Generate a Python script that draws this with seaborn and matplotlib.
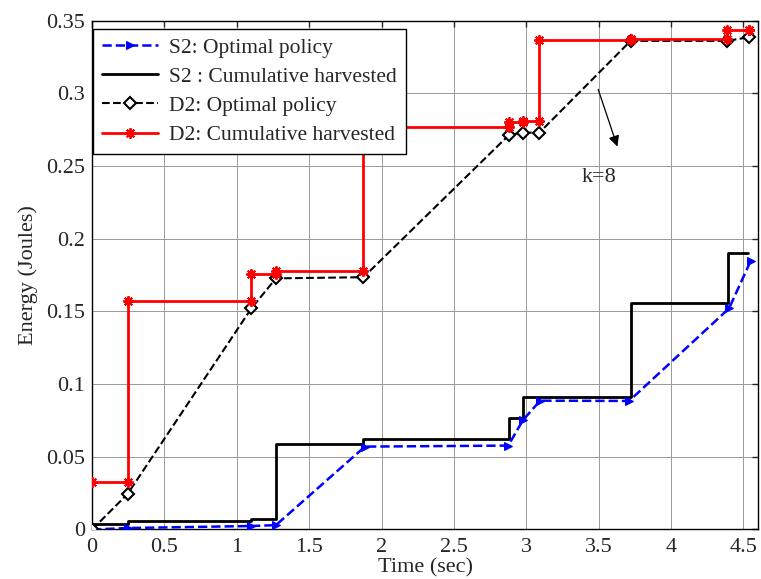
import matplotlib
matplotlib.use("Agg")
import matplotlib.pyplot as plt
import seaborn as sns
import pandas as pd
import numpy as np

# S2: optimal policy (blue dashed, triangles)
s2_opt_t = [0, 0.245, 1.10, 1.27, 1.885, 2.875, 2.975, 3.095, 3.71, 4.40, 4.55]
s2_opt_e = [0.0, 0.001, 0.0024, 0.003, 0.057, 0.0577, 0.075, 0.0886, 0.0884, 0.152, 0.1847]

# S2: cumulative harvested (black step)
s2_cum_t = [0, 0.245, 1.10, 1.27, 1.875, 2.88, 2.98, 3.72, 4.39, 4.53]
s2_cum_e = [0.004, 0.006, 0.007, 0.059, 0.0622, 0.077, 0.0913, 0.156, 0.1904, 0.1904]

# D2: optimal policy (black dashed, diamonds)
d2_opt_t = [0, 0.245, 1.10, 1.27, 1.875, 2.88, 2.975, 3.09, 3.72, 4.385, 4.535]
d2_opt_e = [0.0, 0.0244, 0.152, 0.1727, 0.1735, 0.2713, 0.2729, 0.2729, 0.336, 0.336, 0.3385]

# D2: cumulative harvested (red step with asterisks)
d2_cum_t = [0, 0.245, 1.10, 1.27, 1.875, 2.88, 2.975, 3.09, 3.72, 4.385, 4.535]
d2_cum_e = [0.0327, 0.157, 0.176, 0.178, 0.2766, 0.2805, 0.281, 0.3366, 0.337, 0.3435, 0.3435]


def stairs(t, e):
    # corner points of a post-step curve: (t_i, e_{i-1}) then (t_i, e_i)
    xs = [t[0]]
    ys = [e[0]]
    for i in range(1, len(t)):
        xs += [t[i], t[i]]
        ys += [e[i - 1], e[i]]
    return pd.DataFrame({"t": xs, "e": ys})


sns.set_style("white")
plt.rcParams["font.family"] = ["Liberation Serif", "DejaVu Serif"]

fig = plt.figure(figsize=(7.61, 5.79), dpi=100)
ax = fig.add_axes([0.121, 0.0855, 0.875, 0.879])

s2_opt = pd.DataFrame({"t": s2_opt_t, "e": s2_opt_e})
d2_opt = pd.DataFrame({"t": d2_opt_t, "e": d2_opt_e})
s2_cum = stairs(s2_cum_t, s2_cum_e)
d2_cum = stairs(d2_cum_t, d2_cum_e)

sns.lineplot(data=s2_opt, x="t", y="e", ax=ax, sort=False, estimator=None,
             color="#0000ff", linestyle="--", linewidth=1.8, marker=">",
             markersize=6, markeredgecolor="#0000ff", dashes=False,
             label="S2: Optimal policy", zorder=3)
sns.lineplot(data=s2_cum, x="t", y="e", ax=ax, sort=False, estimator=None,
             color="black", linewidth=2, label="S2 : Cumulative harvested", zorder=2)
sns.lineplot(data=d2_opt, x="t", y="e", ax=ax, sort=False, estimator=None,
             color="black", linestyle="--", linewidth=1.5, marker="D",
             markersize=6.5, markerfacecolor="white", markeredgecolor="black",
             markeredgewidth=1.5, dashes=False,
             label="D2: Optimal policy", zorder=3)
sns.lineplot(data=d2_cum, x="t", y="e", ax=ax, sort=False, estimator=None,
             color="red", linewidth=2, marker=(8, 2, 0), markersize=7.5,
             markeredgecolor="red", markeredgewidth=1.4,
             label="D2: Cumulative harvested", zorder=4)

ax.set_xlim(0, 4.6)
ax.set_ylim(0, 0.35)
ax.set_xticks(np.arange(0, 4.51, 0.5))
ax.set_xticklabels(["0", "0.5", "1", "1.5", "2", "2.5", "3", "3.5", "4", "4.5"])
ax.set_yticks(np.arange(0, 0.351, 0.05))
ax.set_yticklabels(["0", "0.05", "0.1", "0.15", "0.2", "0.25", "0.3", "0.35"])
ax.tick_params(direction="in", length=4, width=1, labelsize=16,
               top=True, right=True)
ax.tick_params(axis="x", pad=6)
ax.tick_params(axis="y", pad=5)
ax.grid(True, color="#999999", linewidth=0.7)
for sp in ax.spines.values():
    sp.set_color("black")
    sp.set_linewidth(1)

ax.set_xlabel("Time (sec)", fontsize=16, labelpad=1)
ax.set_ylabel("Energy (Joules)", fontsize=16, labelpad=6)

ax.annotate("", xy=(3.635, 0.2615), xytext=(3.49, 0.3045),
            arrowprops=dict(arrowstyle="-|>", color="black", lw=0.9,
                            mutation_scale=16))
ax.text(3.50, 0.242, "k=8", fontsize=16, ha="center", va="center")

leg = ax.legend(loc="upper left", bbox_to_anchor=(0.002, 0.984),
                borderaxespad=0, fancybox=False, framealpha=1,
                edgecolor="black", fontsize=15.5, handlelength=2.6,
                labelspacing=0.42, borderpad=0.42, handletextpad=0.5)
leg.get_frame().set_linewidth(1)

fig.savefig("out.png", dpi=100)
